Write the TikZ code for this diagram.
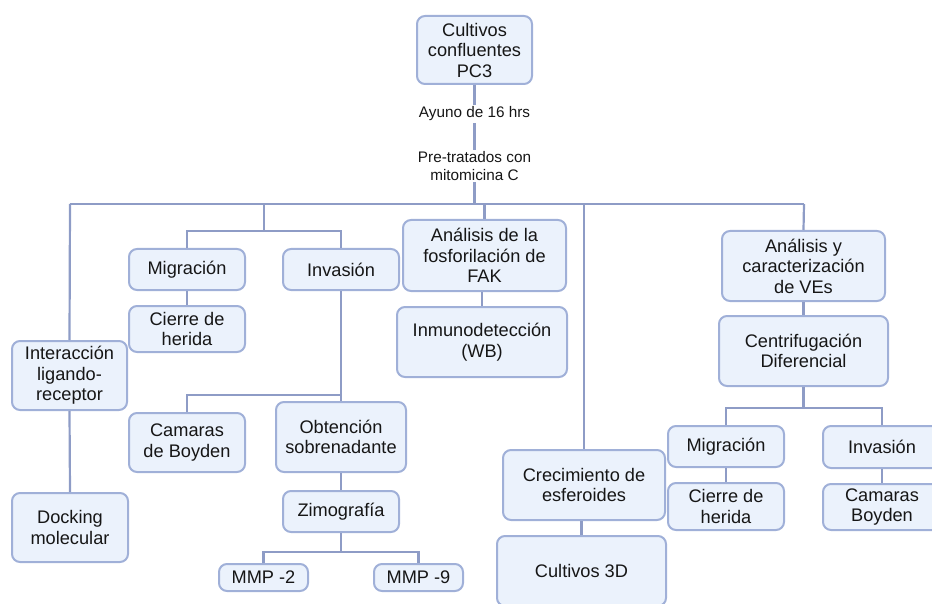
\documentclass[tikz,border=0pt]{standalone}
\usepackage{fontspec}
\setmainfont{Liberation Sans}
\definecolor{boxfill}{HTML}{EBF2FC}
\definecolor{boxline}{HTML}{A0B0D8}
\definecolor{conn}{HTML}{8E9CC6}
\definecolor{txt}{HTML}{161616}
\begin{document}
\begin{tikzpicture}[x=1pt,y=-1pt,
  box/.style={draw=boxline, fill=boxfill, line width=2pt, rounded corners=8pt,
    align=center, inner sep=0pt, text=txt, font=\fontsize{18.2}{20.5}\selectfont},
  lbl/.style={fill=white, align=center, inner sep=2pt, text=txt, font=\fontsize{15.3}{17.5}\selectfont},
  link/.style={draw=conn, line width=2.2pt}]
\useasboundingbox (0,0) rectangle (932,604);
% nodes
\node[box, minimum width=115pt, minimum height=68pt] (top) at (474.5,50) {Cultivos\\confluentes\\PC3};
\node[box, minimum width=115pt, minimum height=69pt] (intx) at (69.5,375.5) {Interacción\\ligando-\\receptor};
\node[box, minimum width=116pt, minimum height=69pt] (dock) at (70,527.5) {Docking\\molecular};
\node[box, minimum width=116pt, minimum height=41pt] (mig1) at (187,269.5) {Migración};
\node[box, minimum width=116pt, minimum height=41pt] (inv1) at (341,269.5) {Invasión};
\node[box, minimum width=116pt, minimum height=46pt] (cier1) at (187,329) {Cierre de\\herida};
\node[box, minimum width=116pt, minimum height=59pt] (cam1) at (187,442.5) {Camaras\\de Boyden};
\node[box, minimum width=130pt, minimum height=70pt] (obt) at (341,437) {Obtención\\sobrenadante};
\node[box, minimum width=116pt, minimum height=41pt] (zim) at (341,511.5) {Zimografía};
\node[box, minimum width=89pt, minimum height=27pt] (mmp2) at (263.5,577.5) {MMP -2};
\node[box, minimum width=89pt, minimum height=27pt] (mmp9) at (418.5,577.5) {MMP -9};
\node[box, minimum width=163pt, minimum height=71pt] (fak) at (484.5,255.5) {Análisis de la\\fosforilación de\\FAK};
\node[box, minimum width=170pt, minimum height=70pt] (inmu) at (482,342) {Inmunodetección\\(WB)};
\node[box, minimum width=162pt, minimum height=70pt] (crec) at (584,485) {Crecimiento de\\esferoides};
\node[box, minimum width=169pt, minimum height=70pt] (c3d) at (581.5,571) {Cultivos 3D};
\node[box, minimum width=163pt, minimum height=70pt] (ves) at (803.5,266) {Análisis y\\caracterización\\de VEs};
\node[box, minimum width=169pt, minimum height=70pt] (cent) at (803.5,351) {Centrifugación\\Diferencial};
\node[box, minimum width=116pt, minimum height=41pt] (mig2) at (726,446.5) {Migración};
\node[box, minimum width=118pt, minimum height=42pt] (inv2) at (882,447) {Invasión};
\node[box, minimum width=116pt, minimum height=47pt] (cier2) at (726,506.5) {Cierre de\\herida};
\node[box, minimum width=118pt, minimum height=46pt] (cam2) at (882,507) {Camaras\\Boyden};
% junction coordinates
\coordinate (busL) at (70,204);
\coordinate (busR) at (804,204);
\coordinate (b1) at (264,204);
\coordinate (j1) at (341,395);
\coordinate (j2) at (341,552);
\coordinate (j3) at (803.5,408);
% connectors
\draw[link] (top.south) -- (top.south |- busL);
\draw[link] (busL) -- (busR);
\draw[link] (busL) -- (intx.north);
\draw[link] (intx.south) -- (dock.north);
\draw[link] (b1) -- ++(0,27) coordinate (s1);
\draw[link] (mig1.north) |- (s1) -| (inv1.north);
\draw[link] (mig1.south) -- (cier1.north);
\draw[link] (inv1.south) -- (obt.north);
\draw[link] (cam1.north) |- (j1);
\draw[link] (obt.south) -- (zim.north);
\draw[link] (zim.south) -- (j2);
\draw[link] (mmp2.north) |- (j2) -| (mmp9.north);
\draw[link] (fak.north |- busL) -- (fak.north);
\draw[link] (inmu.north |- fak.south) -- (inmu.north);
\draw[link] (crec.north |- busL) -- (crec.north);
\draw[link] (c3d.north |- crec.south) -- (c3d.north);
\draw[link] (busR) -- (ves.north);
\draw[link] (ves.south) -- (cent.north);
\draw[link] (cent.south) -- (j3);
\draw[link] (mig2.north) |- (j3) -| (inv2.north);
\draw[link] (mig2.south) -- (cier2.north);
\draw[link] (inv2.south) -- (cam2.north);
% labels on the trunk
\node[lbl] (ayuno) at (474.5,114) {Ayuno de 16 hrs};
\node[lbl] (pret) at (474.5,166) {Pre-tratados con\\mitomicina C};
\end{tikzpicture}
\end{document}
